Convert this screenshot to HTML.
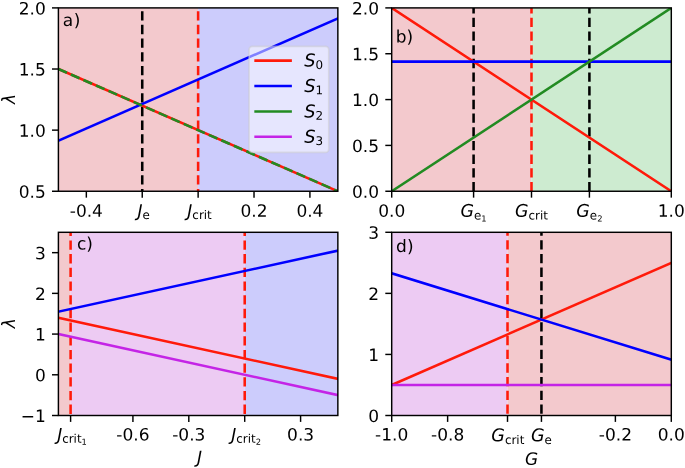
<!DOCTYPE html><html><head><meta charset="utf-8"><title>figure</title><style>html,body{margin:0;padding:0;background:#fff}svg{display:block}text{font-family:"DejaVu Sans","Liberation Sans",sans-serif;font-size:17.0px;fill:#000}</style></head><body>
<svg width="685" height="468" viewBox="0 0 685 468">
<rect width="685" height="468" fill="#fff"/>
<rect x="58.40" y="7.90" width="139.73" height="183.35" fill="#f3c9cd"/>
<rect x="198.13" y="7.90" width="139.72" height="183.35" fill="#ccccfc"/>
<clipPath id="ca"><rect x="58.40" y="7.90" width="279.45" height="183.35"/></clipPath>
<g clip-path="url(#ca)">
<line x1="142.24" y1="198.30" x2="142.24" y2="7.90" stroke="#000" stroke-width="2.55" stroke-dasharray="9.3 4.38"/>
<line x1="198.13" y1="198.30" x2="198.13" y2="7.90" stroke="#ff1a0a" stroke-width="2.55" stroke-dasharray="9.3 4.38"/>
<line x1="58.40" y1="69.02" x2="337.85" y2="191.25" stroke="#ff1a0a" stroke-width="2.55" stroke-linecap="square"/>
<line x1="58.40" y1="140.62" x2="337.85" y2="18.39" stroke="#0000ff" stroke-width="2.55" stroke-linecap="square"/>
<line x1="58.40" y1="69.02" x2="337.85" y2="191.25" stroke="#228b22" stroke-width="2.55" stroke-linecap="butt" stroke-dasharray="9.3 4.38"/>
</g>
<line x1="86.34" y1="191.25" x2="86.34" y2="197.65" stroke="#000" stroke-width="1.45"/>
<text transform="translate(86.34,216.75) rotate(0.04)" text-anchor="middle">-0.4</text>
<line x1="142.24" y1="191.25" x2="142.24" y2="197.65" stroke="#000" stroke-width="1.45"/>
<text transform="translate(143.64,216.65) rotate(0.04)" text-anchor="middle"><tspan font-style="italic" font-size="17.0">J</tspan><tspan font-size="11.90" dy="2.42">e</tspan></text>
<line x1="198.13" y1="191.25" x2="198.13" y2="197.65" stroke="#000" stroke-width="1.45"/>
<text transform="translate(199.53,216.65) rotate(0.04)" text-anchor="middle"><tspan font-style="italic" font-size="17.0">J</tspan><tspan font-size="11.90" dy="2.42">crit</tspan></text>
<line x1="254.02" y1="191.25" x2="254.02" y2="197.65" stroke="#000" stroke-width="1.45"/>
<text transform="translate(254.02,216.75) rotate(0.04)" text-anchor="middle">0.2</text>
<line x1="309.91" y1="191.25" x2="309.91" y2="197.65" stroke="#000" stroke-width="1.45"/>
<text transform="translate(309.91,216.75) rotate(0.04)" text-anchor="middle">0.4</text>
<line x1="58.40" y1="191.25" x2="52.00" y2="191.25" stroke="#000" stroke-width="1.45"/>
<text transform="translate(45.80,197.80) rotate(0.04)" text-anchor="end">0.5</text>
<line x1="58.40" y1="130.13" x2="52.00" y2="130.13" stroke="#000" stroke-width="1.45"/>
<text transform="translate(45.80,136.68) rotate(0.04)" text-anchor="end">1.0</text>
<line x1="58.40" y1="69.02" x2="52.00" y2="69.02" stroke="#000" stroke-width="1.45"/>
<text transform="translate(45.80,75.57) rotate(0.04)" text-anchor="end">1.5</text>
<line x1="58.40" y1="7.90" x2="52.00" y2="7.90" stroke="#000" stroke-width="1.45"/>
<text transform="translate(45.80,14.45) rotate(0.04)" text-anchor="end">2.0</text>
<rect x="58.40" y="7.90" width="279.45" height="183.35" fill="none" stroke="#000" stroke-width="1.45"/>
<text transform="translate(62.70,26.10) rotate(0.04)" font-size="17.3">a<tspan dx="0.6">)</tspan></text>
<text transform="translate(15.45,98.88) rotate(-90)" text-anchor="middle" font-style="italic">λ</text>
<rect x="391.70" y="7.90" width="139.80" height="183.35" fill="#f3c9cd"/>
<rect x="531.50" y="7.90" width="139.80" height="183.35" fill="#cdebd0"/>
<clipPath id="cb"><rect x="391.70" y="7.90" width="279.60" height="183.35"/></clipPath>
<g clip-path="url(#cb)">
<line x1="473.59" y1="191.25" x2="473.59" y2="7.90" stroke="#000" stroke-width="2.55" stroke-dasharray="9.3 4.38"/>
<line x1="531.50" y1="191.25" x2="531.50" y2="7.90" stroke="#ff1a0a" stroke-width="2.55" stroke-dasharray="9.3 4.38"/>
<line x1="589.41" y1="191.25" x2="589.41" y2="7.90" stroke="#000" stroke-width="2.55" stroke-dasharray="9.3 4.38"/>
<line x1="391.70" y1="7.90" x2="671.30" y2="191.25" stroke="#ff1a0a" stroke-width="2.55" stroke-linecap="square"/>
<line x1="391.70" y1="61.60" x2="671.30" y2="61.60" stroke="#0000ff" stroke-width="2.55" stroke-linecap="square"/>
<line x1="391.70" y1="191.25" x2="671.30" y2="7.90" stroke="#228b22" stroke-width="2.55" stroke-linecap="square"/>
</g>
<line x1="391.70" y1="191.25" x2="391.70" y2="197.65" stroke="#000" stroke-width="1.45"/>
<text transform="translate(391.70,216.75) rotate(0.04)" text-anchor="middle">0.0</text>
<line x1="473.59" y1="191.25" x2="473.59" y2="197.65" stroke="#000" stroke-width="1.45"/>
<text transform="translate(473.59,216.75) rotate(0.04)" text-anchor="middle"><tspan font-style="italic" font-size="17.4">G</tspan><tspan font-size="11.90" dy="2.72">e</tspan><tspan font-size="8.33" dy="1.90">1</tspan></text>
<line x1="531.50" y1="191.25" x2="531.50" y2="197.65" stroke="#000" stroke-width="1.45"/>
<text transform="translate(531.50,216.75) rotate(0.04)" text-anchor="middle"><tspan font-style="italic" font-size="17.4">G</tspan><tspan font-size="11.90" dy="2.72">crit</tspan></text>
<line x1="589.41" y1="191.25" x2="589.41" y2="197.65" stroke="#000" stroke-width="1.45"/>
<text transform="translate(589.41,216.75) rotate(0.04)" text-anchor="middle"><tspan font-style="italic" font-size="17.4">G</tspan><tspan font-size="11.90" dy="2.72">e</tspan><tspan font-size="8.33" dy="1.90">2</tspan></text>
<line x1="671.30" y1="191.25" x2="671.30" y2="197.65" stroke="#000" stroke-width="1.45"/>
<text transform="translate(671.30,216.75) rotate(0.04)" text-anchor="middle">1.0</text>
<line x1="391.70" y1="191.25" x2="385.30" y2="191.25" stroke="#000" stroke-width="1.45"/>
<text transform="translate(379.10,197.80) rotate(0.04)" text-anchor="end">0.0</text>
<line x1="391.70" y1="145.41" x2="385.30" y2="145.41" stroke="#000" stroke-width="1.45"/>
<text transform="translate(379.10,151.96) rotate(0.04)" text-anchor="end">0.5</text>
<line x1="391.70" y1="99.58" x2="385.30" y2="99.58" stroke="#000" stroke-width="1.45"/>
<text transform="translate(379.10,106.12) rotate(0.04)" text-anchor="end">1.0</text>
<line x1="391.70" y1="53.74" x2="385.30" y2="53.74" stroke="#000" stroke-width="1.45"/>
<text transform="translate(379.10,60.29) rotate(0.04)" text-anchor="end">1.5</text>
<line x1="391.70" y1="7.90" x2="385.30" y2="7.90" stroke="#000" stroke-width="1.45"/>
<text transform="translate(379.10,14.45) rotate(0.04)" text-anchor="end">2.0</text>
<rect x="391.70" y="7.90" width="279.60" height="183.35" fill="none" stroke="#000" stroke-width="1.45"/>
<text transform="translate(395.70,42.60) rotate(0.04)" font-size="17.3">b)</text>
<rect x="58.40" y="232.30" width="12.20" height="183.20" fill="#f3c9cd"/>
<rect x="70.60" y="232.30" width="174.10" height="183.20" fill="#edcbf3"/>
<rect x="244.70" y="232.30" width="93.15" height="183.20" fill="#ccccfc"/>
<clipPath id="cc"><rect x="58.40" y="232.30" width="279.45" height="183.20"/></clipPath>
<g clip-path="url(#cc)">
<line x1="70.60" y1="413.90" x2="70.60" y2="232.30" stroke="#ff1a0a" stroke-width="2.55" stroke-dasharray="9.3 4.38"/>
<line x1="244.70" y1="413.90" x2="244.70" y2="232.30" stroke="#ff1a0a" stroke-width="2.55" stroke-dasharray="9.3 4.38"/>
<line x1="58.40" y1="317.79" x2="337.85" y2="378.86" stroke="#ff1a0a" stroke-width="2.55" stroke-linecap="square"/>
<line x1="58.40" y1="311.69" x2="337.85" y2="250.62" stroke="#0000ff" stroke-width="2.55" stroke-linecap="square"/>
<line x1="58.40" y1="334.08" x2="337.85" y2="395.14" stroke="#c424e6" stroke-width="2.55" stroke-linecap="square"/>
</g>
<line x1="70.60" y1="415.50" x2="70.60" y2="421.90" stroke="#000" stroke-width="1.45"/>
<text transform="translate(72.00,440.40) rotate(0.04)" text-anchor="middle"><tspan font-style="italic" font-size="17.0">J</tspan><tspan font-size="11.90" dy="2.42">crit</tspan><tspan font-size="8.33" dy="1.90">1</tspan></text>
<line x1="132.92" y1="415.50" x2="132.92" y2="421.90" stroke="#000" stroke-width="1.45"/>
<text transform="translate(132.92,440.60) rotate(0.04)" text-anchor="middle">-0.6</text>
<line x1="188.81" y1="415.50" x2="188.81" y2="421.90" stroke="#000" stroke-width="1.45"/>
<text transform="translate(188.81,440.60) rotate(0.04)" text-anchor="middle">-0.3</text>
<line x1="244.70" y1="415.50" x2="244.70" y2="421.90" stroke="#000" stroke-width="1.45"/>
<text transform="translate(246.10,440.40) rotate(0.04)" text-anchor="middle"><tspan font-style="italic" font-size="17.0">J</tspan><tspan font-size="11.90" dy="2.42">crit</tspan><tspan font-size="8.33" dy="1.90">2</tspan></text>
<line x1="300.59" y1="415.50" x2="300.59" y2="421.90" stroke="#000" stroke-width="1.45"/>
<text transform="translate(300.59,440.60) rotate(0.04)" text-anchor="middle">0.3</text>
<line x1="58.40" y1="415.50" x2="52.00" y2="415.50" stroke="#000" stroke-width="1.45"/>
<text transform="translate(45.80,422.05) rotate(0.04)" text-anchor="end">−1</text>
<line x1="58.40" y1="374.79" x2="52.00" y2="374.79" stroke="#000" stroke-width="1.45"/>
<text transform="translate(45.80,381.34) rotate(0.04)" text-anchor="end">0</text>
<line x1="58.40" y1="334.08" x2="52.00" y2="334.08" stroke="#000" stroke-width="1.45"/>
<text transform="translate(45.80,340.63) rotate(0.04)" text-anchor="end">1</text>
<line x1="58.40" y1="293.37" x2="52.00" y2="293.37" stroke="#000" stroke-width="1.45"/>
<text transform="translate(45.80,299.92) rotate(0.04)" text-anchor="end">2</text>
<line x1="58.40" y1="252.66" x2="52.00" y2="252.66" stroke="#000" stroke-width="1.45"/>
<text transform="translate(45.80,259.21) rotate(0.04)" text-anchor="end">3</text>
<rect x="58.40" y="232.30" width="279.45" height="183.20" fill="none" stroke="#000" stroke-width="1.45"/>
<text transform="translate(76.90,249.60) rotate(0.04)" font-size="17.3">c)</text>
<text transform="translate(199.43,463.20) rotate(0.04)" text-anchor="middle" font-style="italic" font-size="17.8">J</text>
<text transform="translate(15.45,323.20) rotate(-90)" text-anchor="middle" font-style="italic">λ</text>
<rect x="391.70" y="232.30" width="115.81" height="183.20" fill="#edcbf3"/>
<rect x="507.51" y="232.30" width="163.79" height="183.20" fill="#f3c9cd"/>
<clipPath id="cd"><rect x="391.70" y="232.30" width="279.60" height="183.20"/></clipPath>
<g clip-path="url(#cd)">
<line x1="507.51" y1="413.70" x2="507.51" y2="232.30" stroke="#ff1a0a" stroke-width="2.55" stroke-dasharray="9.3 4.38"/>
<line x1="541.44" y1="413.70" x2="541.44" y2="232.30" stroke="#000" stroke-width="2.55" stroke-dasharray="9.3 4.38"/>
<line x1="391.70" y1="384.97" x2="671.30" y2="262.83" stroke="#ff1a0a" stroke-width="2.55" stroke-linecap="square"/>
<line x1="391.70" y1="273.31" x2="671.30" y2="359.67" stroke="#0000ff" stroke-width="2.55" stroke-linecap="square"/>
<line x1="391.70" y1="384.97" x2="671.30" y2="384.97" stroke="#c424e6" stroke-width="2.55" stroke-linecap="square"/>
</g>
<line x1="391.70" y1="415.50" x2="391.70" y2="421.90" stroke="#000" stroke-width="1.45"/>
<text transform="translate(391.70,440.60) rotate(0.04)" text-anchor="middle">-1.0</text>
<line x1="447.62" y1="415.50" x2="447.62" y2="421.90" stroke="#000" stroke-width="1.45"/>
<text transform="translate(447.62,440.60) rotate(0.04)" text-anchor="middle">-0.8</text>
<line x1="507.51" y1="415.50" x2="507.51" y2="421.90" stroke="#000" stroke-width="1.45"/>
<text transform="translate(507.81,441.20) rotate(0.04)" text-anchor="middle"><tspan font-style="italic" font-size="17.6">G</tspan><tspan font-size="11.90" dy="2.72">crit</tspan></text>
<line x1="541.44" y1="415.50" x2="541.44" y2="421.90" stroke="#000" stroke-width="1.45"/>
<text transform="translate(541.44,441.20) rotate(0.04)" text-anchor="middle"><tspan font-style="italic" font-size="17.6">G</tspan><tspan font-size="11.90" dy="2.72">e</tspan></text>
<line x1="615.38" y1="415.50" x2="615.38" y2="421.90" stroke="#000" stroke-width="1.45"/>
<text transform="translate(615.38,440.60) rotate(0.04)" text-anchor="middle">-0.2</text>
<line x1="671.30" y1="415.50" x2="671.30" y2="421.90" stroke="#000" stroke-width="1.45"/>
<text transform="translate(671.30,440.60) rotate(0.04)" text-anchor="middle">0.0</text>
<line x1="391.70" y1="415.50" x2="385.30" y2="415.50" stroke="#000" stroke-width="1.45"/>
<text transform="translate(379.10,422.05) rotate(0.04)" text-anchor="end">0</text>
<line x1="391.70" y1="354.43" x2="385.30" y2="354.43" stroke="#000" stroke-width="1.45"/>
<text transform="translate(379.10,360.98) rotate(0.04)" text-anchor="end">1</text>
<line x1="391.70" y1="293.37" x2="385.30" y2="293.37" stroke="#000" stroke-width="1.45"/>
<text transform="translate(379.10,299.92) rotate(0.04)" text-anchor="end">2</text>
<line x1="391.70" y1="232.30" x2="385.30" y2="232.30" stroke="#000" stroke-width="1.45"/>
<text transform="translate(379.10,238.85) rotate(0.04)" text-anchor="end">3</text>
<rect x="391.70" y="232.30" width="279.60" height="183.20" fill="none" stroke="#000" stroke-width="1.45"/>
<text transform="translate(396.00,252.10) rotate(0.04)" font-size="17.3">d<tspan dx="0.3">)</tspan></text>
<text transform="translate(531.50,464.80) rotate(0.04)" text-anchor="middle" font-style="italic" font-size="17">G</text>
<rect x="249.05" y="46.4" width="79.75" height="106.00" rx="3.4" fill="#fff" fill-opacity="0.5" stroke="#ccc" stroke-opacity="0.5" stroke-width="1.7"/>
<line x1="255.6" y1="60.6" x2="290.6" y2="60.6" stroke="#ff1a0a" stroke-width="2.55" stroke-linecap="square"/>
<text transform="translate(304.3,66.60) rotate(0.04)"><tspan font-style="italic" font-size="17.8">S</tspan><tspan font-size="11.90" dy="2.32">0</tspan></text>
<line x1="255.6" y1="85.9" x2="290.6" y2="85.9" stroke="#0000ff" stroke-width="2.55" stroke-linecap="square"/>
<text transform="translate(304.3,91.90) rotate(0.04)"><tspan font-style="italic" font-size="17.8">S</tspan><tspan font-size="11.90" dy="2.32">1</tspan></text>
<line x1="255.6" y1="111.4" x2="290.6" y2="111.4" stroke="#228b22" stroke-width="2.55" stroke-linecap="square"/>
<text transform="translate(304.3,117.40) rotate(0.04)"><tspan font-style="italic" font-size="17.8">S</tspan><tspan font-size="11.90" dy="2.32">2</tspan></text>
<line x1="255.6" y1="136.7" x2="290.6" y2="136.7" stroke="#c424e6" stroke-width="2.55" stroke-linecap="square"/>
<text transform="translate(304.3,142.70) rotate(0.04)"><tspan font-style="italic" font-size="17.8">S</tspan><tspan font-size="11.90" dy="2.32">3</tspan></text>
</svg></body></html>
